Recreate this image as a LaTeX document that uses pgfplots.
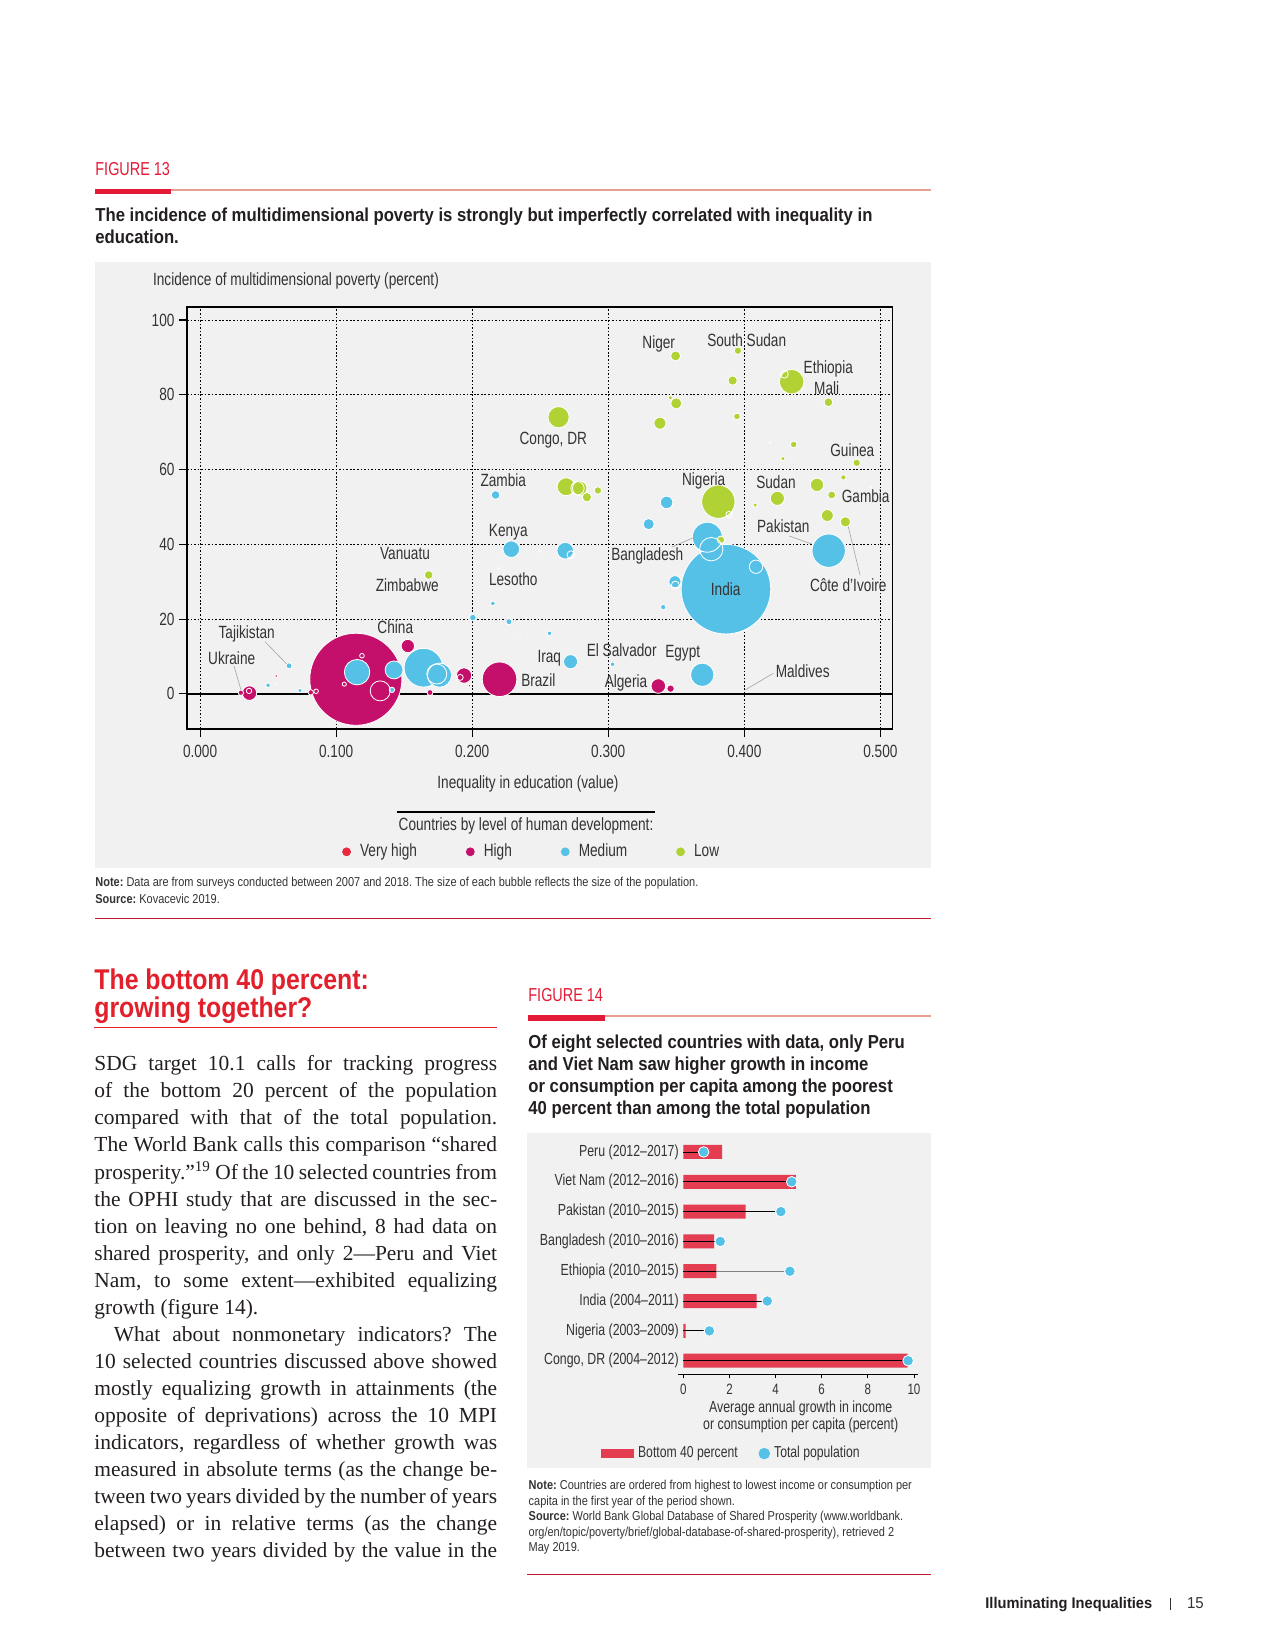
\documentclass[border=0pt]{standalone}
\usepackage{pgfplots}
\usepackage{pgfplotstable}
\pgfplotsset{compat=1.18}
\usepackage{fontspec}
\setmainfont{Liberation Sans}[FakeStretch=0.77]
\newfontfamily\titlefont{Liberation Sans}[FakeStretch=0.89]
\newfontfamily\headfont{Liberation Sans}[FakeStretch=0.87]
\newfontfamily\notefont{Liberation Sans}[FakeStretch=0.85]
\newfontfamily\widefont{Liberation Sans}[FakeStretch=0.95]
\newfontfamily\bodyfont{Liberation Serif}
\frenchspacing
\definecolor{figred}{HTML}{E31B37}
\definecolor{salmon}{HTML}{E9A093}
\definecolor{panel}{HTML}{F1F1F1}
\definecolor{cMag}{HTML}{C4106A}
\definecolor{cMed}{HTML}{56C1E6}
\definecolor{cLow}{HTML}{B1D235}
\definecolor{cVH}{HTML}{E8293D}
\definecolor{barred}{HTML}{E43D52}
\definecolor{headred}{HTML}{E2202C}
\definecolor{txt}{HTML}{231F20}
\definecolor{lab}{HTML}{333333}
\newcommand\fsz[1]{\fontsize{#1}{#1}\selectfont}

% bubbles: x, y, radius (pt)
\pgfplotstableread{
x y r
0.1145 3.9 22.1
0.2201 3.9 8.3
0.194 4.9 3.7
0.3368 2.1 3.5
0.0363 0.2 3.5
0.1527 12.8 3.2
0.3458 1.4 1.8
0.169 0.35 1.44
0.0814 0.4 1.3
0.030 0.3 1.3
0.056 4.8 0.8
0.198 2.2 0.8
0.2348 14.9 0.5
0.056 2.7 0.35
}\tabHigh
\pgfplotstableread{
x y r
0.3865 28.0 21.5
0.1642 7.0 9.3
0.462 38.3 8.0
0.3728 41.9 7.2
0.1154 5.8 6.1
0.176 5.0 5.8
0.3691 5.1 5.6
0.1426 6.4 4.3
0.2287 38.7 4.0
0.2684 38.3 4.0
0.2723 8.6 3.4
0.3429 51.2 3.0
0.349 30.0 2.9
0.3297 45.4 2.7
0.2172 53.2 2.1
0.2005 20.4 1.6
0.0654 7.5 1.45
0.227 19.3 1.45
0.141 1.07 1.3
0.3404 23.2 1.3
0.050 2.3 1.1
0.2152 24.2 1.1
0.2568 16.2 1.1
0.3032 7.9 1.1
0.0735 0.9 1.0
0.25 38 0.35
}\tabMed
\pgfplotstableread{
x y r
0.3809 51.4 8.0
0.4348 83.5 5.9
0.2635 74.0 5.1
0.269 55.4 4.3
0.279 55.0 3.5
0.4243 52.3 3.4
0.4534 55.9 3.2
0.338 72.4 2.9
0.461 47.7 2.9
0.35 77.7 2.7
0.4743 46.0 2.5
0.3495 90.4 2.4
0.2843 52.6 2.25
0.3914 83.8 2.25
0.168 31.8 2.1
0.4618 78.0 2.1
0.4642 53.2 1.9
0.3953 91.8 1.8
0.2924 54.4 1.8
0.4826 61.8 1.8
0.3828 41.2 1.8
0.3946 74.2 1.6
0.4363 66.7 1.6
0.4728 57.9 1.3
0.3456 79.2 1.0
0.4284 62.9 1.0
0.4079 50.5 1.0
0.2195 33.6 0.5
0.4926 55.3 0.5
0.419 67.2 0.35
}\tabLow
\pgfplotstableread{
x y r
0.1324 0.8 4.8
0.3757 38.7 5.6
0.174 5.3 4.8
0.4086 34.0 3.2
0.2774 55.0 3.2
0.4294 85.5 1.9
0.2726 37.2 1.9
0.3493 29.1 1.9
0.3887 48.0 1.45
0.1912 4.4 1.45
0.036 0.8 1.3
0.119 10.2 1.1
0.106 2.6 1.0
0.0853 0.7 1.1
}\tabHollow

\pgfplotsset{
 bub/.style={scatter, only marks, mark=*, point meta=y,
   scatter/use mapped color={draw=white, fill=#1},
   visualization depends on={\thisrow{r}\as\rad},
   scatter/@pre marker code/.append style={/tikz/mark size=\rad, /tikz/line width=0.35pt}},
 hol/.style={scatter, only marks, mark=o, point meta=y,
   scatter/use mapped color={draw=white},
   visualization depends on={\thisrow{r}\as\rad},
   scatter/@pre marker code/.append style={/tikz/mark size=\rad, /tikz/line width=0.4pt}},
}

\newcommand\bl[2]{\node[anchor=base west,inner sep=0pt,text=txt,font=\bodyfont\fontsize{10.3}{12}\selectfont] at (94,#1) {\makebox[193.3pt][s]{#2}};}
\newcommand\clab[3]{\node[anchor=base,inner sep=0pt,text=lab,font=\fsz{8.5}] at (#1,#2+6.5) {#3};}

\begin{document}
\begin{tikzpicture}
\path[use as bounding box] (0,0) rectangle (612pt,-792pt);
\fill[white] (0,0) rectangle (612pt,-792pt);
\begin{scope}[x=0.48pt,y=-0.48pt]
% ---------- Figure 13 header
\node[anchor=base west,inner sep=0pt,text=figred,font=\fsz{9}] at (95,176) {FIGURE 13};
\fill[salmon] (95,189.3) rectangle (931,190.8);
\fill[figred] (95,189.3) rectangle (171,194.5);
\node[anchor=base west,inner sep=0pt,text=txt,font=\titlefont\bfseries\fsz{9}] at (95,221.7) {The incidence of multidimensional poverty is strongly but imperfectly correlated with inequality in};
\node[anchor=base west,inner sep=0pt,text=txt,font=\titlefont\bfseries\fsz{9}] at (95,243.3) {education.};
\fill[panel] (95,262) rectangle (931,868);
\node[anchor=base west,inner sep=0pt,text=lab,font=\fsz{8.5}] at (152.7,285.7) {Incidence of multidimensional poverty (percent)};
\node[anchor=base,inner sep=0pt,text=lab,font=\fsz{8.5}] at (528,788.5) {Inequality in education (value)};
\draw[black,line width=0.5pt] (396.5,812) -- (655,812);
\node[anchor=base,inner sep=0pt,text=lab,font=\fsz{8.5}] at (526,830.5) {Countries by level of human development:};
\node[anchor=base west,inner sep=0pt,text=lab,font=\notefont\fsz{6.2}] at (95,886) {\textbf{Note:} Data are from surveys conducted between 2007 and 2018. The size of each bubble reflects the size of the population.};
\node[anchor=base west,inner sep=0pt,text=lab,font=\notefont\fsz{6.2}] at (95,903.5) {\textbf{Source:} Kovacevic 2019.};
\fill[figred!85!black] (95,917.5) rectangle (931,918.7);
% ---------- Section heading and body
\node[anchor=base west,inner sep=0pt,text=headred,font=\headfont\bfseries\fsz{13.7}] at (94,989.2) {The bottom 40 percent:};
\node[anchor=base west,inner sep=0pt,text=headred,font=\headfont\bfseries\fsz{13.7}] at (94,1017.5) {growing together?};
\fill[headred] (94,1026.5) rectangle (497,1027.7);
\bl{1070.8}{SDG target 10.1 calls for tracking progress}
\bl{1097.8}{of the bottom 20 percent of the population}
\bl{1124.9}{compared with that of the total population.}
\bl{1151.9}{The World Bank calls this comparison “shared}
\bl{1179.0}{prosperity.”\textsuperscript{19} Of the 10 selected countries from}
\bl{1206.0}{the OPHI study that are discussed in the sec-}
\bl{1233.0}{tion on leaving no one behind, 8 had data on}
\bl{1260.1}{shared prosperity, and only 2—Peru and Viet}
\bl{1287.1}{Nam, to some extent—exhibited equalizing}
\node[anchor=base west,inner sep=0pt,text=txt,font=\bodyfont\fontsize{10.3}{12}\selectfont] at (94,1314.2) {growth (figure 14).};
\bl{1341.2}{\hspace*{9.3pt}What about nonmonetary indicators? The}
\bl{1368.2}{10 selected countries discussed above showed}
\bl{1395.3}{mostly equalizing growth in attainments (the}
\bl{1422.3}{opposite of deprivations) across the 10 MPI}
\bl{1449.4}{indicators, regardless of whether growth was}
\bl{1476.4}{measured in absolute terms (as the change be-}
\bl{1503.4}{tween two years divided by the number of years}
\bl{1530.5}{elapsed) or in relative terms (as the change}
\bl{1557.5}{between two years divided by the value in the}
% ---------- Figure 14 header
\node[anchor=base west,inner sep=0pt,text=figred,font=\fsz{9}] at (528,1001.7) {FIGURE 14};
\fill[salmon] (528,1015) rectangle (931,1016.5);
\fill[figred] (528,1015) rectangle (605,1020.5);
\node[anchor=base west,inner sep=0pt,text=txt,font=\titlefont\bfseries\fsz{9}] at (528,1048.3) {Of eight selected countries with data, only Peru};
\node[anchor=base west,inner sep=0pt,text=txt,font=\titlefont\bfseries\fsz{9}] at (528,1070.3) {and Viet Nam saw higher growth in income};
\node[anchor=base west,inner sep=0pt,text=txt,font=\titlefont\bfseries\fsz{9}] at (528,1092.5) {or consumption per capita among the poorest};
\node[anchor=base west,inner sep=0pt,text=txt,font=\titlefont\bfseries\fsz{9}] at (528,1114.7) {40 percent than among the total population};
\fill[panel] (527.3,1132.7) rectangle (930.7,1468.3);
\node[anchor=base,inner sep=0pt,text=lab,font=\fsz{7.7}] at (800.7,1412) {Average annual growth in income};
\node[anchor=base,inner sep=0pt,text=lab,font=\fsz{7.7}] at (800.7,1429.5) {or consumption per capita (percent)};
\node[anchor=base west,inner sep=0pt,text=lab,font=\notefont\fsz{6.2}] at (528.3,1489.5) {\textbf{Note:} Countries are ordered from highest to lowest income or consumption per};
\node[anchor=base west,inner sep=0pt,text=lab,font=\notefont\fsz{6.2}] at (528.3,1505) {capita in the first year of the period shown.};
\node[anchor=base west,inner sep=0pt,text=lab,font=\notefont\fsz{6.2}] at (528.3,1520.5) {\textbf{Source:} World Bank Global Database of Shared Prosperity (www.worldbank.};
\node[anchor=base west,inner sep=0pt,text=lab,font=\notefont\fsz{6.2}] at (528.3,1536) {org/en/topic/poverty/brief/global-database-of-shared-prosperity), retrieved 2};
\node[anchor=base west,inner sep=0pt,text=lab,font=\notefont\fsz{6.2}] at (528.3,1551.5) {May 2019.};
\fill[figred!85!black] (527,1573.5) rectangle (931,1574.7);
% ---------- footer
\node[anchor=base west,inner sep=0pt,text=txt,font=\widefont\bfseries\fsz{7.4}] at (985,1608.3) {Illuminating Inequalities};
\draw[lab,line width=0.4pt] (1170,1598) -- (1170,1610);
\node[anchor=base west,inner sep=0pt,text=lab,font=\widefont\fsz{7.6}] at (1186.7,1608.3) {15};
\end{scope}

% ================= Figure 13 axis
\begin{axis}[
  at={({187*0.48pt},{-729*0.48pt})}, anchor=south west,
  scale only axis, width=338.7pt, height=202.6pt,
  xmin=-0.0096, xmax=0.509, ymin=-9.4, ymax=103.5,
  xtick={0,0.1,0.2,0.3,0.4,0.5},
  xticklabels={0.000,0.100,0.200,0.300,0.400,0.500},
  ytick={0,20,40,60,80,100},
  yticklabels={0,20,40,60,80,100},
  xtick pos=left, ytick pos=left,
  tick align=outside, major tick length=4pt,
  tick style={black, line width=0.5pt},
  grid=major,
  major grid style={black, line width=0.45pt, dash pattern=on 0.8pt off 0.9pt},
  axis line style={black, line width=0.6pt},
  ticklabel style={font=\fsz{8.5}, text=lab},
  yticklabel style={xshift=1.5pt},
  clip=false,
  legend columns=4,
  legend cell align=left,
  legend style={draw=none, fill=none, at={(0.49,-0.291)}, anchor=center,
     font=\fsz{8.5}, text=lab, inner sep=0pt,
     /tikz/every even column/.append style={column sep=21.5pt}},
]
\addlegendimage{legend image code/.code={\path[draw=none,fill=none] (0pt,-0.1pt) rectangle (6.5pt,0.1pt); \fill[cVH] (2pt,0pt) circle (1.9pt);}}
\addlegendentry{Very high}
\addlegendimage{legend image code/.code={\path[draw=none,fill=none] (0pt,-0.1pt) rectangle (6.5pt,0.1pt); \fill[cMag] (2pt,0pt) circle (1.9pt);}}
\addlegendentry{High}
\addlegendimage{legend image code/.code={\path[draw=none,fill=none] (0pt,-0.1pt) rectangle (6.5pt,0.1pt); \fill[cMed] (2pt,0pt) circle (1.9pt);}}
\addlegendentry{Medium}
\addlegendimage{legend image code/.code={\path[draw=none,fill=none] (0pt,-0.1pt) rectangle (6.5pt,0.1pt); \fill[cLow] (2pt,0pt) circle (1.9pt);}}
\addlegendentry{Low}
\addplot[black, line width=0.8pt] coordinates {(-0.0096,0) (0.509,0)};
\addplot[bub=cMag] table[x=x,y=y] {\tabHigh};
\addplot[bub=cMed] table[x=x,y=y] {\tabMed};
\addplot[bub=cLow] table[x=x,y=y] {\tabLow};
\addplot[hol] table[x=x,y=y] {\tabHollow};
\end{axis}

% ================= Figure 14 axis
\begin{axis}[
  at={({678.3*0.48pt},{-1374.3*0.48pt})}, anchor=south west,
  scale only axis, width=115.2pt, height=114.6pt,
  xmin=-0.22, xmax=10.19, ymin=0.544, ymax=8.55,
  axis lines*=left,
  y axis line style={draw=none},
  x axis line style={black, line width=0.5pt},
  xtick={0,2,4,6,8,10}, xticklabels={0,2,4,6,8,10},
  ytick={1,2,3,4,5,6,7,8},
  yticklabels={{Congo, DR (2004–2012)},{Nigeria (2003–2009)},{India (2004–2011)},{Ethiopia (2010–2015)},{Bangladesh (2010–2016)},{Pakistan (2010–2015)},{Viet Nam (2012–2016)},{Peru (2012–2017)}},
  ytick style={draw=none},
  xtick style={black, line width=0.4pt},
  tick align=outside, major tick length=2pt,
  ticklabel style={font=\fsz{7.7}, text=lab},
  xticklabel style={font=\fsz{7.2}, yshift=0.8pt},
  yticklabel style={inner sep=0pt, xshift=2.4pt},
  clip=false,
  legend columns=2,
  legend cell align=left,
  legend style={draw=none, fill=none, at={(-0.322,-0.332)}, anchor=west,
     font=\fsz{7.6}, text=lab, inner sep=0pt,
     /tikz/every even column/.append style={column sep=8pt}},
]
\addlegendimage{legend image code/.code={\fill[barred] (0pt,-2pt) rectangle (15.2pt,2pt);}}
\addlegendentry{Bottom 40 percent}
\addlegendimage{legend image code/.code={\fill[cMed] (2.55pt,0pt) circle (2.55pt);}}
\addlegendentry{Total population}
\addplot[xbar, bar width=6.72pt, fill=barred, draw=none] coordinates {(9.73,1) (0.10,2) (3.18,3) (1.43,4) (1.33,5) (2.70,6) (4.88,7) (1.68,8)};
\addplot[xcomb, gray, line width=0.4pt] coordinates {(4.62,4)};
\addplot[xcomb, black, line width=0.4pt] coordinates {(9.75,1) (1.13,2) (3.64,3) (1.43,4) (1.60,5) (4.23,6) (4.70,7) (0.88,8)};
\addplot[only marks, mark=*, mark size=2.55pt, mark options={fill=cMed, draw=white, line width=0.4pt}] coordinates {(9.75,1) (1.13,2) (3.64,3) (4.62,4) (1.60,5) (4.23,6) (4.70,7) (0.88,8)};
\end{axis}

% ================= Figure 13 labels and leaders
\begin{scope}[x=0.48pt,y=-0.48pt]
\draw[gray!70,line width=0.3pt] (234,666) -- (241,690);
\draw[gray!70,line width=0.3pt] (265,641.7) -- (286.7,664);
\draw[gray!70,line width=0.3pt] (672,547) -- (693.3,537.7);
\draw[gray!70,line width=0.3pt] (789.3,536) -- (811.7,544);
\draw[gray!70,line width=0.3pt] (860,575) -- (848.3,526.7);
\draw[gray!70,line width=0.3pt] (773.3,673.3) -- (745,690);
\clab{246.7}{632.3}{Tajikistan}
\clab{231.7}{658.3}{Ukraine}
\clab{395.3}{627.3}{China}
\clab{405}{553.3}{Vanuatu}
\clab{407.3}{585}{Zimbabwe}
\clab{503.3}{480}{Zambia}
\clab{508.3}{530}{Kenya}
\clab{513.3}{579.3}{Lesotho}
\clab{538.3}{680}{Brazil}
\clab{553.3}{438.3}{Congo, DR}
\clab{549.3}{656}{Iraq}
\clab{621.7}{650}{El Salvador}
\clab{626}{681}{Algeria}
\clab{682.7}{651}{Egypt}
\clab{658.7}{341.7}{Niger}
\clab{746.7}{340}{South Sudan}
\clab{828.3}{367.3}{Ethiopia}
\clab{826.7}{388.3}{Mali}
\clab{852.3}{450}{Guinea}
\clab{703.7}{479}{Nigeria}
\clab{776}{482.3}{Sudan}
\clab{865.7}{496}{Gambia}
\clab{783.3}{526}{Pakistan}
\clab{647.3}{554}{Bangladesh}
\clab{725.7}{589.3}{India}
\clab{848.3}{585}{Côte d’Ivoire}
\clab{802.7}{671}{Maldives}
\end{scope}
\end{tikzpicture}
\end{document}
